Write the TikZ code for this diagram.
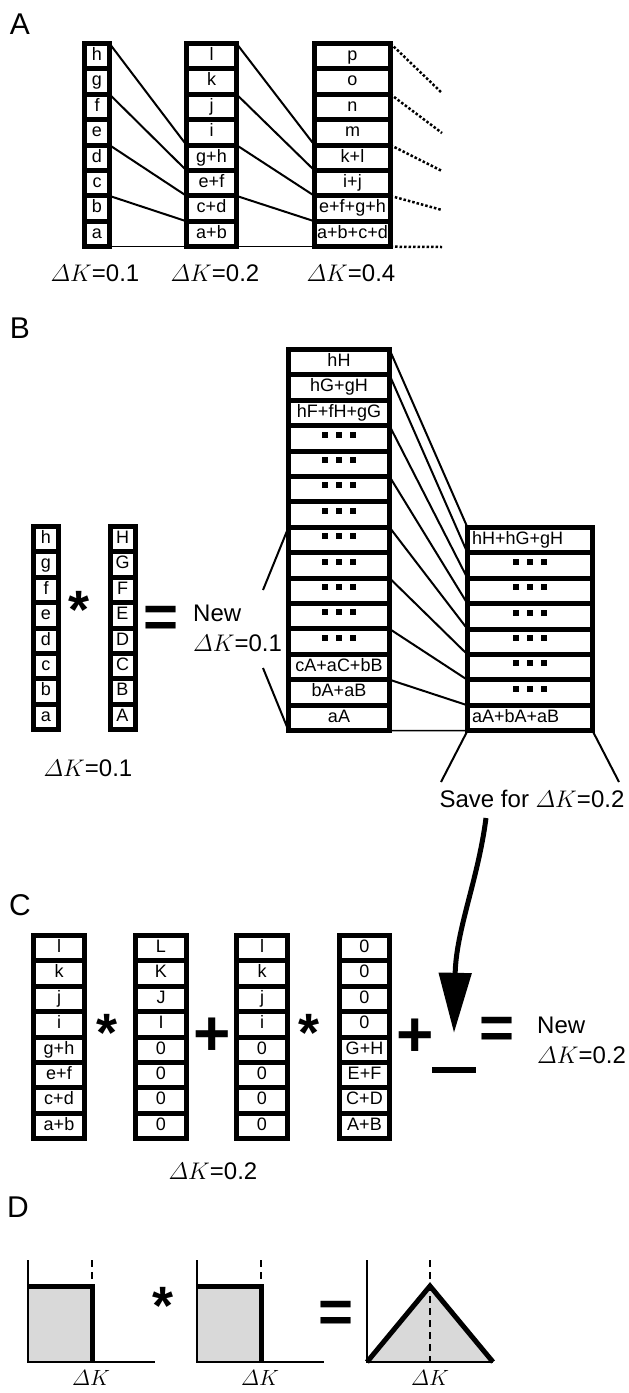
\RequirePackage{fix-cm}
\documentclass[tikz,border=0pt]{standalone}
\usepackage{amsmath}
\usepackage[no-math]{fontspec}
\setmainfont{Liberation Sans}
\usetikzlibrary{arrows.meta}

\newcommand{\cellfont}{\fontsize{18}{20}\selectfont}
\newcommand{\lblfont}{\fontsize{24}{30}\selectfont}
\newcommand{\dK}{$\varDelta K$}
\newcommand{\sqdots}{\rule[5pt]{6pt}{6pt}\hspace{8pt}\rule[5pt]{6pt}{6pt}\hspace{8pt}\rule[5pt]{6pt}{6pt}}
\newcommand{\cellcol}[5]{%
  \foreach \txt [count=\i] in {#5}
    \node (#1-\i) [cell, minimum width=#4pt] at (#2, {#3+25.4*\i-10.2}) {\txt};%
}

\tikzstyle{cell} = [rectangle, draw=black, line width=5pt, fill=white, inner sep=0pt, outer sep=0pt, minimum height=25.4pt, text height=12pt, text depth=3.5pt, font=\cellfont]
\tikzstyle{link} = [line width=2pt]
\tikzstyle{flat} = [line width=1.5pt]
\tikzstyle{fade} = [line width=2.5pt, dash pattern=on 2.5pt off 2pt]
\tikzstyle{lbl} = [font=\lblfont, inner sep=0pt]
\tikzstyle{panel} = [font=\fontsize{30}{30}\selectfont, inner sep=0pt]
\tikzstyle{timesop} = [font=\fontsize{54}{54}\bfseries\selectfont, inner sep=0pt]
\tikzstyle{eqop} = [font=\fontsize{60}{60}\bfseries\selectfont, inner sep=0pt]
\tikzstyle{plusop} = [font=\fontsize{64}{64}\bfseries\selectfont, inner sep=0pt]
\tikzstyle{carry} = [line width=5pt, -{Triangle[width=32pt,length=60pt]}]
\tikzstyle{plotaxis} = [line width=2.5pt]
\tikzstyle{rim} = [line width=5pt]
\tikzstyle{guide} = [line width=2.5pt, dash pattern=on 7pt off 5pt]

\begin{document}
\begin{tikzpicture}[x=1pt, y=-1pt]
  \useasboundingbox (0,0) rectangle (629,1393);

  % A
  \node (pa) [panel] at (20,24) {A};
  \cellcol{a1}{97}{41}{25}{h,g,f,e,d,c,b,a}
  \cellcol{a2}{211.5}{41}{50}{l,k,j,i,g+h,e+f,c+d,a+b}
  \cellcol{a3}{352.5}{41}{76}{p,o,n,m,k+l,i+j,e+f+g+h,a+b+c+d}
  \node (dka1) [lbl] at (95,273) {\dK=0.1};
  \node (dka2) [lbl] at (215,273) {\dK=0.2};
  \node (dka3) [lbl] at (351,273) {\dK=0.4};

  \foreach \p/\q in {a1/a2, a2/a3} {
    \draw [link] (\p-1.north east) -- (\q-4.south west);
    \draw [link] (\p-2.south east) -- (\q-5.south west);
    \draw [link] (\p-4.south east) -- (\q-6.south west);
    \draw [link] (\p-6.south east) -- (\q-7.south west);
    \draw [flat] (\p-8.south east) -- (\q-8.south west);
  }
  \coordinate (t1) at (442,93);
  \coordinate (t2) at (442,133);
  \coordinate (t3) at (442,171);
  \coordinate (t4) at (442,210);
  \coordinate (t5) at (442,247);
  \draw [fade] (a3-1.north east) -- (t1);
  \draw [fade] (a3-2.south east) -- (t2);
  \draw [fade] (a3-4.south east) -- (t3);
  \draw [fade] (a3-6.south east) -- (t4);
  \draw [fade] (a3-8.south east) -- (t5);

  % B
  \node (pb) [panel] at (20,328) {B};
  \cellcol{b1}{46}{524}{25}{h,g,f,e,d,c,b,a}
  \cellcol{b2}{122.5}{524}{25}{H,G,F,E,D,C,B,A}
  \cellcol{b3}{339}{347}{101}{hH,hG+gH,hF+fH+gG,\sqdots,\sqdots,\sqdots,\sqdots,\sqdots,\sqdots,\sqdots,\sqdots,\sqdots,cA+aC+bB,bA+aB,aA}
  \cellcol{b4}{530}{525}{125}{{\makebox[116pt][l]{hH+hG+gH}},\sqdots,\sqdots,\sqdots,\sqdots,\sqdots,\sqdots,{\makebox[116pt][l]{aA+bA+aB}}}
  \node (bx) [timesop] at (79,610) {*};
  \node (beq) [eqop] at (161,622) {=};
  \node (new1) [lbl, align=left, anchor=west] at (193,628) {New\\\dK=0.1};
  \node (dkb) [lbl] at (88,768) {\dK=0.1};
  \node (save) [lbl] at (532,799) {Save for \dK=0.2};

  \coordinate (n1) at (263,590);
  \coordinate (n2) at (263,668);
  \draw [link] (n1) -- (b3-7.south west);
  \draw [link] (n2) -- (b3-15.south west);
  \draw [link] (b3-1.north east) -- (b4-1.north west);
  \foreach \s/\t in {1/1,3/2,5/3,7/4,9/5,11/6,13/7}
    \draw [link] (b3-\s.south east) -- (b4-\t.south west);
  \draw [flat] (b3-15.south east) -- (b4-8.south west);
  \coordinate (s1) at (441,782);
  \coordinate (s2) at (619,782);
  \draw [link] (b4-8.south west) -- (s1);
  \draw [link] (b4-8.south east) -- (s2);

  % C
  \node (pc) [panel] at (20,905) {C};
  \cellcol{c1}{59}{933}{51}{l,k,j,i,g+h,e+f,c+d,a+b}
  \cellcol{c2}{161}{933}{51}{L,K,J,I,0,0,0,0}
  \cellcol{c3}{262}{933}{51}{l,k,j,i,0,0,0,0}
  \cellcol{c4}{364.5}{933}{50}{0,0,0,0,G+H,E+F,C+D,A+B}
  \node (cx1) [timesop] at (107,1033) {*};
  \node (cp1) [plusop] at (212,1037) {+};
  \node (cx2) [timesop] at (309,1033) {*};
  \node (cp2) [plusop] at (415,1038) {+};
  \node (slot) [fill=black, inner sep=0pt, minimum width=44pt, minimum height=6pt] at (454,1070) {};
  \node (ceq) [eqop] at (497,1033) {=};
  \node (new2) [lbl, align=left, anchor=west] at (537,1040) {New\\\dK=0.2};
  \node (dkc) [lbl] at (213,1171) {\dK=0.2};

  \coordinate (arrtail) at (486,818);
  \draw [carry] (arrtail) .. controls (478,880) and (456,930) .. ([yshift=34pt]slot.north);

  % D
  \node (pd) [panel] at (18,1207) {D};
  \foreach \dx in {0,169} {
    \begin{scope}[xshift=\dx pt]
      \fill [gray!30] (28,1286) rectangle (92,1362);
      \draw [guide] (92,1260) -- (92,1286);
      \draw [plotaxis] (28,1260) -- (28,1362) -- (155,1362);
      \draw [rim] (28,1286) -- (92,1286) -- (92,1362);
    \end{scope}
  }
  \fill [gray!30] (367,1362) -- (430,1286) -- (493,1362) -- cycle;
  \draw [guide] (430,1260) -- (430,1362);
  \draw [plotaxis] (367,1260) -- (367,1362) -- (493,1362);
  \draw [rim] (367,1362) -- (430,1286) -- (493,1362);
  \node (dx) [timesop] at (163,1306) {*};
  \node (deq) [eqop] at (336,1317) {=};
  \node (dkd1) [font=\fontsize{22}{22}\selectfont, inner sep=0pt] at (91,1378) {\dK};
  \node (dkd2) [font=\fontsize{22}{22}\selectfont, inner sep=0pt] at (260,1378) {\dK};
  \node (dkd3) [font=\fontsize{22}{22}\selectfont, inner sep=0pt] at (430,1378) {\dK};
\end{tikzpicture}
\end{document}
